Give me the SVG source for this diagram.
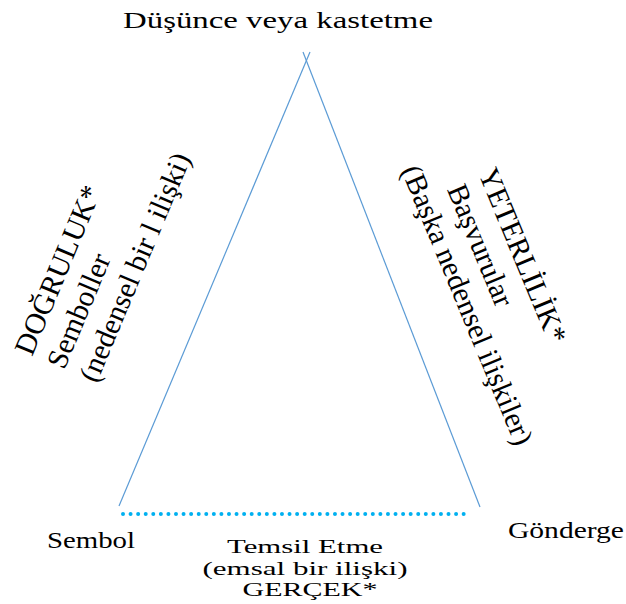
<svg xmlns="http://www.w3.org/2000/svg" width="626" height="604" viewBox="0 0 626 604">
<style>
text{font-family:'Liberation Serif','DejaVu Serif','Times New Roman',serif;fill:#000}
.node{font-size:23px}
.rot{font-size:29.5px}
.bot{font-size:18px;text-anchor:middle}
.side{stroke:#5b9bd5;stroke-width:1.2;fill:none}
.dots{stroke:#00b0f0;stroke-width:4;stroke-linecap:round;stroke-dasharray:0 7.57;fill:none}
</style>
<rect width="626" height="604" fill="#fff"/>
<g id="connectors">
<line class="side" x1="119" y1="506" x2="310" y2="52"/>
<line class="side" x1="303" y1="52" x2="480" y2="507"/>
<line class="dots" x1="123" y1="514" x2="471" y2="514"/>
</g>
<g id="node-thought"><text class="node" x="123" y="28" textLength="310" lengthAdjust="spacingAndGlyphs">Düşünce veya kastetme</text></g>
<g id="node-symbol"><text class="node" x="47" y="548" font-size="24" textLength="88" lengthAdjust="spacingAndGlyphs">Sembol</text></g>
<g id="node-referent"><text class="node" x="508" y="538" textLength="116" lengthAdjust="spacingAndGlyphs">Gönderge</text></g>
<g id="label-left" transform="translate(32,357) rotate(-67.3)">
<text class="rot" x="0" y="0">DOĞRULUK*</text>
<text class="rot" x="0" y="35">Semboller</text>
<text class="rot" x="0" y="70">(nedensel bir l ilişki)</text>
</g>
<g id="label-right" transform="translate(478,173) rotate(67.5)">
<text class="rot" x="0" y="0">YETERLİLİK*</text>
<text class="rot" x="3" y="35">Başvurular</text>
<text class="rot" x="-32" y="70">(Başka nedensel ilişkiler)</text>
</g>
<g id="label-bottom">
<text class="bot" x="305" y="553" textLength="156" lengthAdjust="spacingAndGlyphs">Temsil Etme</text>
<text class="bot" x="305" y="575" textLength="205" lengthAdjust="spacingAndGlyphs">(emsal bir ilişki)</text>
<text class="bot" x="310" y="596" textLength="135" lengthAdjust="spacingAndGlyphs">GERÇEK*</text>
</g>
</svg>
